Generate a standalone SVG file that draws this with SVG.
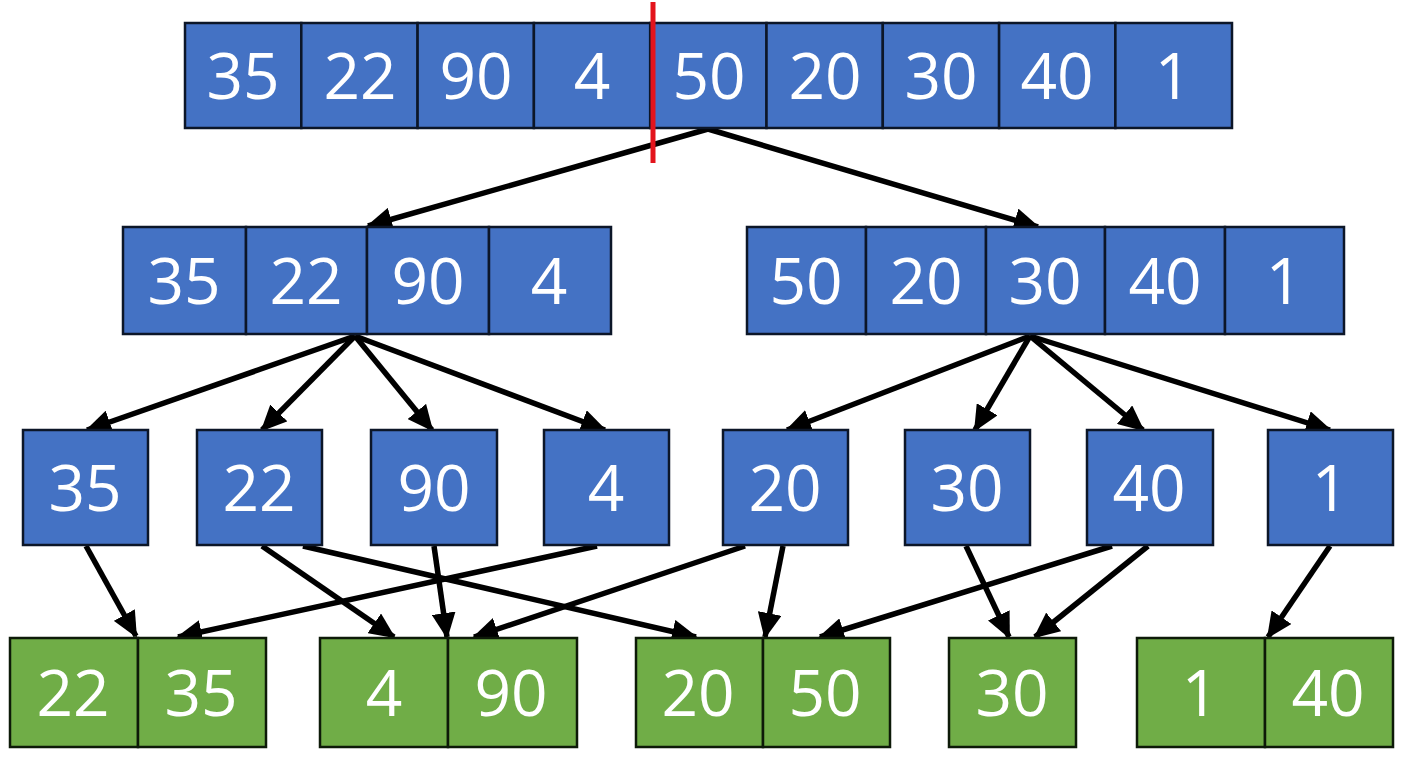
<svg xmlns="http://www.w3.org/2000/svg" width="1408" height="768" viewBox="0 0 1408 768">
<style>
.b{fill:#4472C4;stroke:#0c1628;stroke-width:2.5}
.g{fill:#70AD47;stroke:#0d1a08;stroke-width:2.5}
.t{font-family:"Open Sans","Noto Sans",sans-serif;font-size:64px;fill:#ffffff;text-anchor:middle}
.c{stroke:#000;stroke-width:5.5;fill:none;marker-end:url(#ah)}
</style>
<defs>
<marker id="ah" markerUnits="userSpaceOnUse" markerWidth="28" markerHeight="24" refX="24" refY="12" orient="auto">
<path d="M0,0 L26,12 L0,24 Z" fill="#000"/>
</marker>
</defs>
<rect width="1408" height="768" fill="#fff"/>

<g id="connectors">
<line class="c" x1="708" y1="129" x2="368" y2="226"/>
<line class="c" x1="708" y1="129" x2="1038" y2="227"/>
<line class="c" x1="355" y1="336" x2="87" y2="430"/>
<line class="c" x1="355" y1="336" x2="262" y2="430"/>
<line class="c" x1="355" y1="336" x2="432" y2="430"/>
<line class="c" x1="355" y1="336" x2="605" y2="430"/>
<line class="c" x1="1030" y1="336" x2="787" y2="430"/>
<line class="c" x1="1030" y1="336" x2="975" y2="430"/>
<line class="c" x1="1030" y1="336" x2="1143" y2="430"/>
<line class="c" x1="1030" y1="336" x2="1330" y2="430"/>
<line class="c" x1="86" y1="546" x2="136" y2="636"/>
<line class="c" x1="262" y1="546" x2="394" y2="637"/>
<line class="c" x1="303" y1="546" x2="696" y2="637"/>
<line class="c" x1="434" y1="546" x2="447" y2="637"/>
<line class="c" x1="597" y1="546" x2="178" y2="637"/>
<line class="c" x1="745" y1="546" x2="474" y2="637"/>
<line class="c" x1="783" y1="546" x2="765" y2="637"/>
<line class="c" x1="966" y1="546" x2="1009" y2="637"/>
<line class="c" x1="1112" y1="546" x2="820" y2="637"/>
<line class="c" x1="1148" y1="546" x2="1035" y2="637"/>
<line class="c" x1="1330" y1="546" x2="1268" y2="637"/>
</g>

<g id="top-array">
<rect class="b" x="185" y="23" width="116.3" height="105"/>
<rect class="b" x="301.3" y="23" width="116.3" height="105"/>
<rect class="b" x="417.6" y="23" width="116.3" height="105"/>
<rect class="b" x="533.9" y="23" width="116.3" height="105"/>
<rect class="b" x="650.2" y="23" width="116.3" height="105"/>
<rect class="b" x="766.5" y="23" width="116.3" height="105"/>
<rect class="b" x="882.8" y="23" width="116.3" height="105"/>
<rect class="b" x="999.1" y="23" width="116.3" height="105"/>
<rect class="b" x="1115.4" y="23" width="116.6" height="105"/>
<text class="t" x="243" y="99">35</text>
<text class="t" x="360" y="99">22</text>
<text class="t" x="476" y="99">90</text>
<text class="t" x="592" y="99">4</text>
<text class="t" x="709" y="99">50</text>
<text class="t" x="825" y="99">20</text>
<text class="t" x="941" y="99">30</text>
<text class="t" x="1057" y="99">40</text>
<text class="t" x="1173" y="99">1</text>
</g>

<g id="split-marker">
<line x1="653" y1="2" x2="653" y2="163" stroke="#e3141c" stroke-width="5"/>
</g>

<g id="left-half">
<rect class="b" x="123" y="227" width="123" height="107"/>
<rect class="b" x="246" y="227" width="121" height="107"/>
<rect class="b" x="367" y="227" width="122" height="107"/>
<rect class="b" x="489" y="227" width="122" height="107"/>
<text class="t" x="184" y="304">35</text>
<text class="t" x="306" y="304">22</text>
<text class="t" x="428" y="304">90</text>
<text class="t" x="549" y="304">4</text>
</g>

<g id="right-half">
<rect class="b" x="747" y="227" width="119" height="107"/>
<rect class="b" x="866" y="227" width="120" height="107"/>
<rect class="b" x="986" y="227" width="119" height="107"/>
<rect class="b" x="1105" y="227" width="120" height="107"/>
<rect class="b" x="1225" y="227" width="119" height="107"/>
<text class="t" x="806" y="304">50</text>
<text class="t" x="926" y="304">20</text>
<text class="t" x="1045" y="304">30</text>
<text class="t" x="1165" y="304">40</text>
<text class="t" x="1284" y="304">1</text>
</g>

<g id="n35"><rect class="b" x="23" y="430" width="125" height="115"/><text class="t" x="85" y="511">35</text></g>
<g id="n22"><rect class="b" x="197" y="430" width="125" height="115"/><text class="t" x="259" y="511">22</text></g>
<g id="n90"><rect class="b" x="371" y="430" width="126" height="115"/><text class="t" x="434" y="511">90</text></g>
<g id="n4"><rect class="b" x="544" y="430" width="125" height="115"/><text class="t" x="606" y="511">4</text></g>
<g id="n20"><rect class="b" x="723" y="430" width="125" height="115"/><text class="t" x="785" y="511">20</text></g>
<g id="n30"><rect class="b" x="905" y="430" width="125" height="115"/><text class="t" x="967" y="511">30</text></g>
<g id="n40"><rect class="b" x="1087" y="430" width="126" height="115"/><text class="t" x="1149" y="511">40</text></g>
<g id="n1"><rect class="b" x="1268" y="430" width="125" height="115"/><text class="t" x="1330" y="511">1</text></g>

<g id="m22-35">
<rect class="g" x="10" y="638" width="128" height="109"/>
<rect class="g" x="138" y="638" width="128" height="109"/>
<text class="t" x="73" y="716">22</text>
<text class="t" x="201" y="716">35</text>
</g>
<g id="m4-90">
<rect class="g" x="320" y="638" width="128" height="109"/>
<rect class="g" x="448" y="638" width="129" height="109"/>
<text class="t" x="384" y="716">4</text>
<text class="t" x="511" y="716">90</text>
</g>
<g id="m20-50">
<rect class="g" x="636" y="638" width="127" height="109"/>
<rect class="g" x="763" y="638" width="127" height="109"/>
<text class="t" x="698" y="716">20</text>
<text class="t" x="825" y="716">50</text>
</g>
<g id="m30">
<rect class="g" x="949" y="638" width="127" height="109"/>
<text class="t" x="1012" y="716">30</text>
</g>
<g id="m1-40">
<rect class="g" x="1137" y="638" width="128" height="109"/>
<rect class="g" x="1265" y="638" width="128" height="109"/>
<text class="t" x="1200" y="716">1</text>
<text class="t" x="1328" y="716">40</text>
</g>
</svg>
